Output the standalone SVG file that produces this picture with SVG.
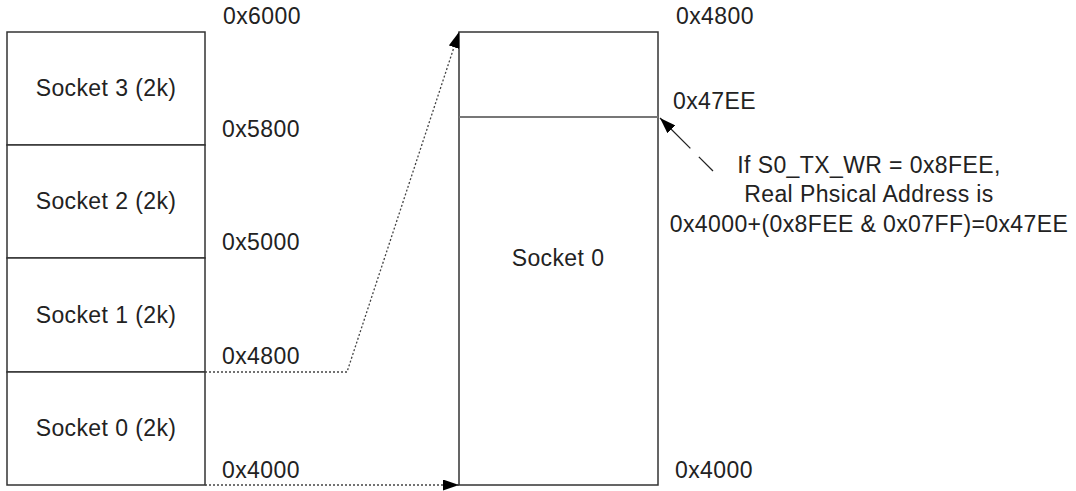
<svg xmlns="http://www.w3.org/2000/svg" width="1076" height="491" viewBox="0 0 1076 491">
<style>
  text { font-family: "Liberation Sans", Arial, sans-serif; font-size: 23px; fill: #222; letter-spacing: 0.4px; }
  .c { text-anchor: middle; }
  .box { fill: #fff; stroke: #333; stroke-width: 1.5; }
  .inner { stroke: #777; stroke-width: 2; fill: none; }
  .dot { stroke: #444; stroke-width: 1.3; fill: none; stroke-dasharray: 2 2; }
  .dash { stroke: #222; stroke-width: 1.3; fill: none; stroke-dasharray: 20 12 80; }
</style>
<defs>
  <marker id="ah" viewBox="0 0 16 11" refX="16" refY="5.5" markerWidth="16" markerHeight="11" markerUnits="userSpaceOnUse" orient="auto">
    <path d="M0,0 L16,5.5 L0,11 Z" fill="#000"/>
  </marker>
</defs>
<rect width="1076" height="491" fill="#fff"/>

<g id="socket3">
  <rect class="box" x="7" y="32" width="198" height="113"/>
  <text class="c" x="106" y="96">Socket 3 (2k)</text>
</g>
<g id="socket2">
  <rect class="box" x="7" y="145" width="198" height="113"/>
  <text class="c" x="106" y="209">Socket 2 (2k)</text>
</g>
<g id="socket1">
  <rect class="box" x="7" y="258" width="198" height="114"/>
  <text class="c" x="106" y="323">Socket 1 (2k)</text>
</g>
<g id="socket0">
  <rect class="box" x="7" y="372" width="198" height="113"/>
  <text class="c" x="106" y="436">Socket 0 (2k)</text>
</g>

<g id="left-addresses">
  <text x="223" y="24">0x6000</text>
  <text x="222" y="137">0x5800</text>
  <text x="222" y="250">0x5000</text>
  <text x="222" y="364">0x4800</text>
  <text x="222" y="478">0x4000</text>
</g>

<g id="socket0-buffer">
  <rect class="box" x="459" y="32" width="199" height="453"/>
  <line class="inner" x1="459" y1="117" x2="658" y2="117"/>
  <text class="c" x="558" y="266">Socket 0</text>
</g>

<g id="right-addresses">
  <text x="676" y="24">0x4800</text>
  <text x="673" y="109">0x47EE</text>
  <text x="675" y="478">0x4000</text>
</g>

<g id="annotation">
  <text class="c" x="869" y="173">If S0_TX_WR = 0x8FEE,</text>
  <text class="c" x="869" y="202">Real Phsical Address is</text>
  <text class="c" x="869" y="232">0x4000+(0x8FEE &amp; 0x07FF)=0x47EE</text>
</g>

<g id="connectors">
  <polyline class="dot" points="205,372 347,372 459,32" marker-end="url(#ah)"/>
  <line class="dot" x1="205" y1="485" x2="459" y2="485" marker-end="url(#ah)"/>
  <line class="dash" x1="713" y1="171" x2="660" y2="118" marker-end="url(#ah)"/>
</g>
</svg>
